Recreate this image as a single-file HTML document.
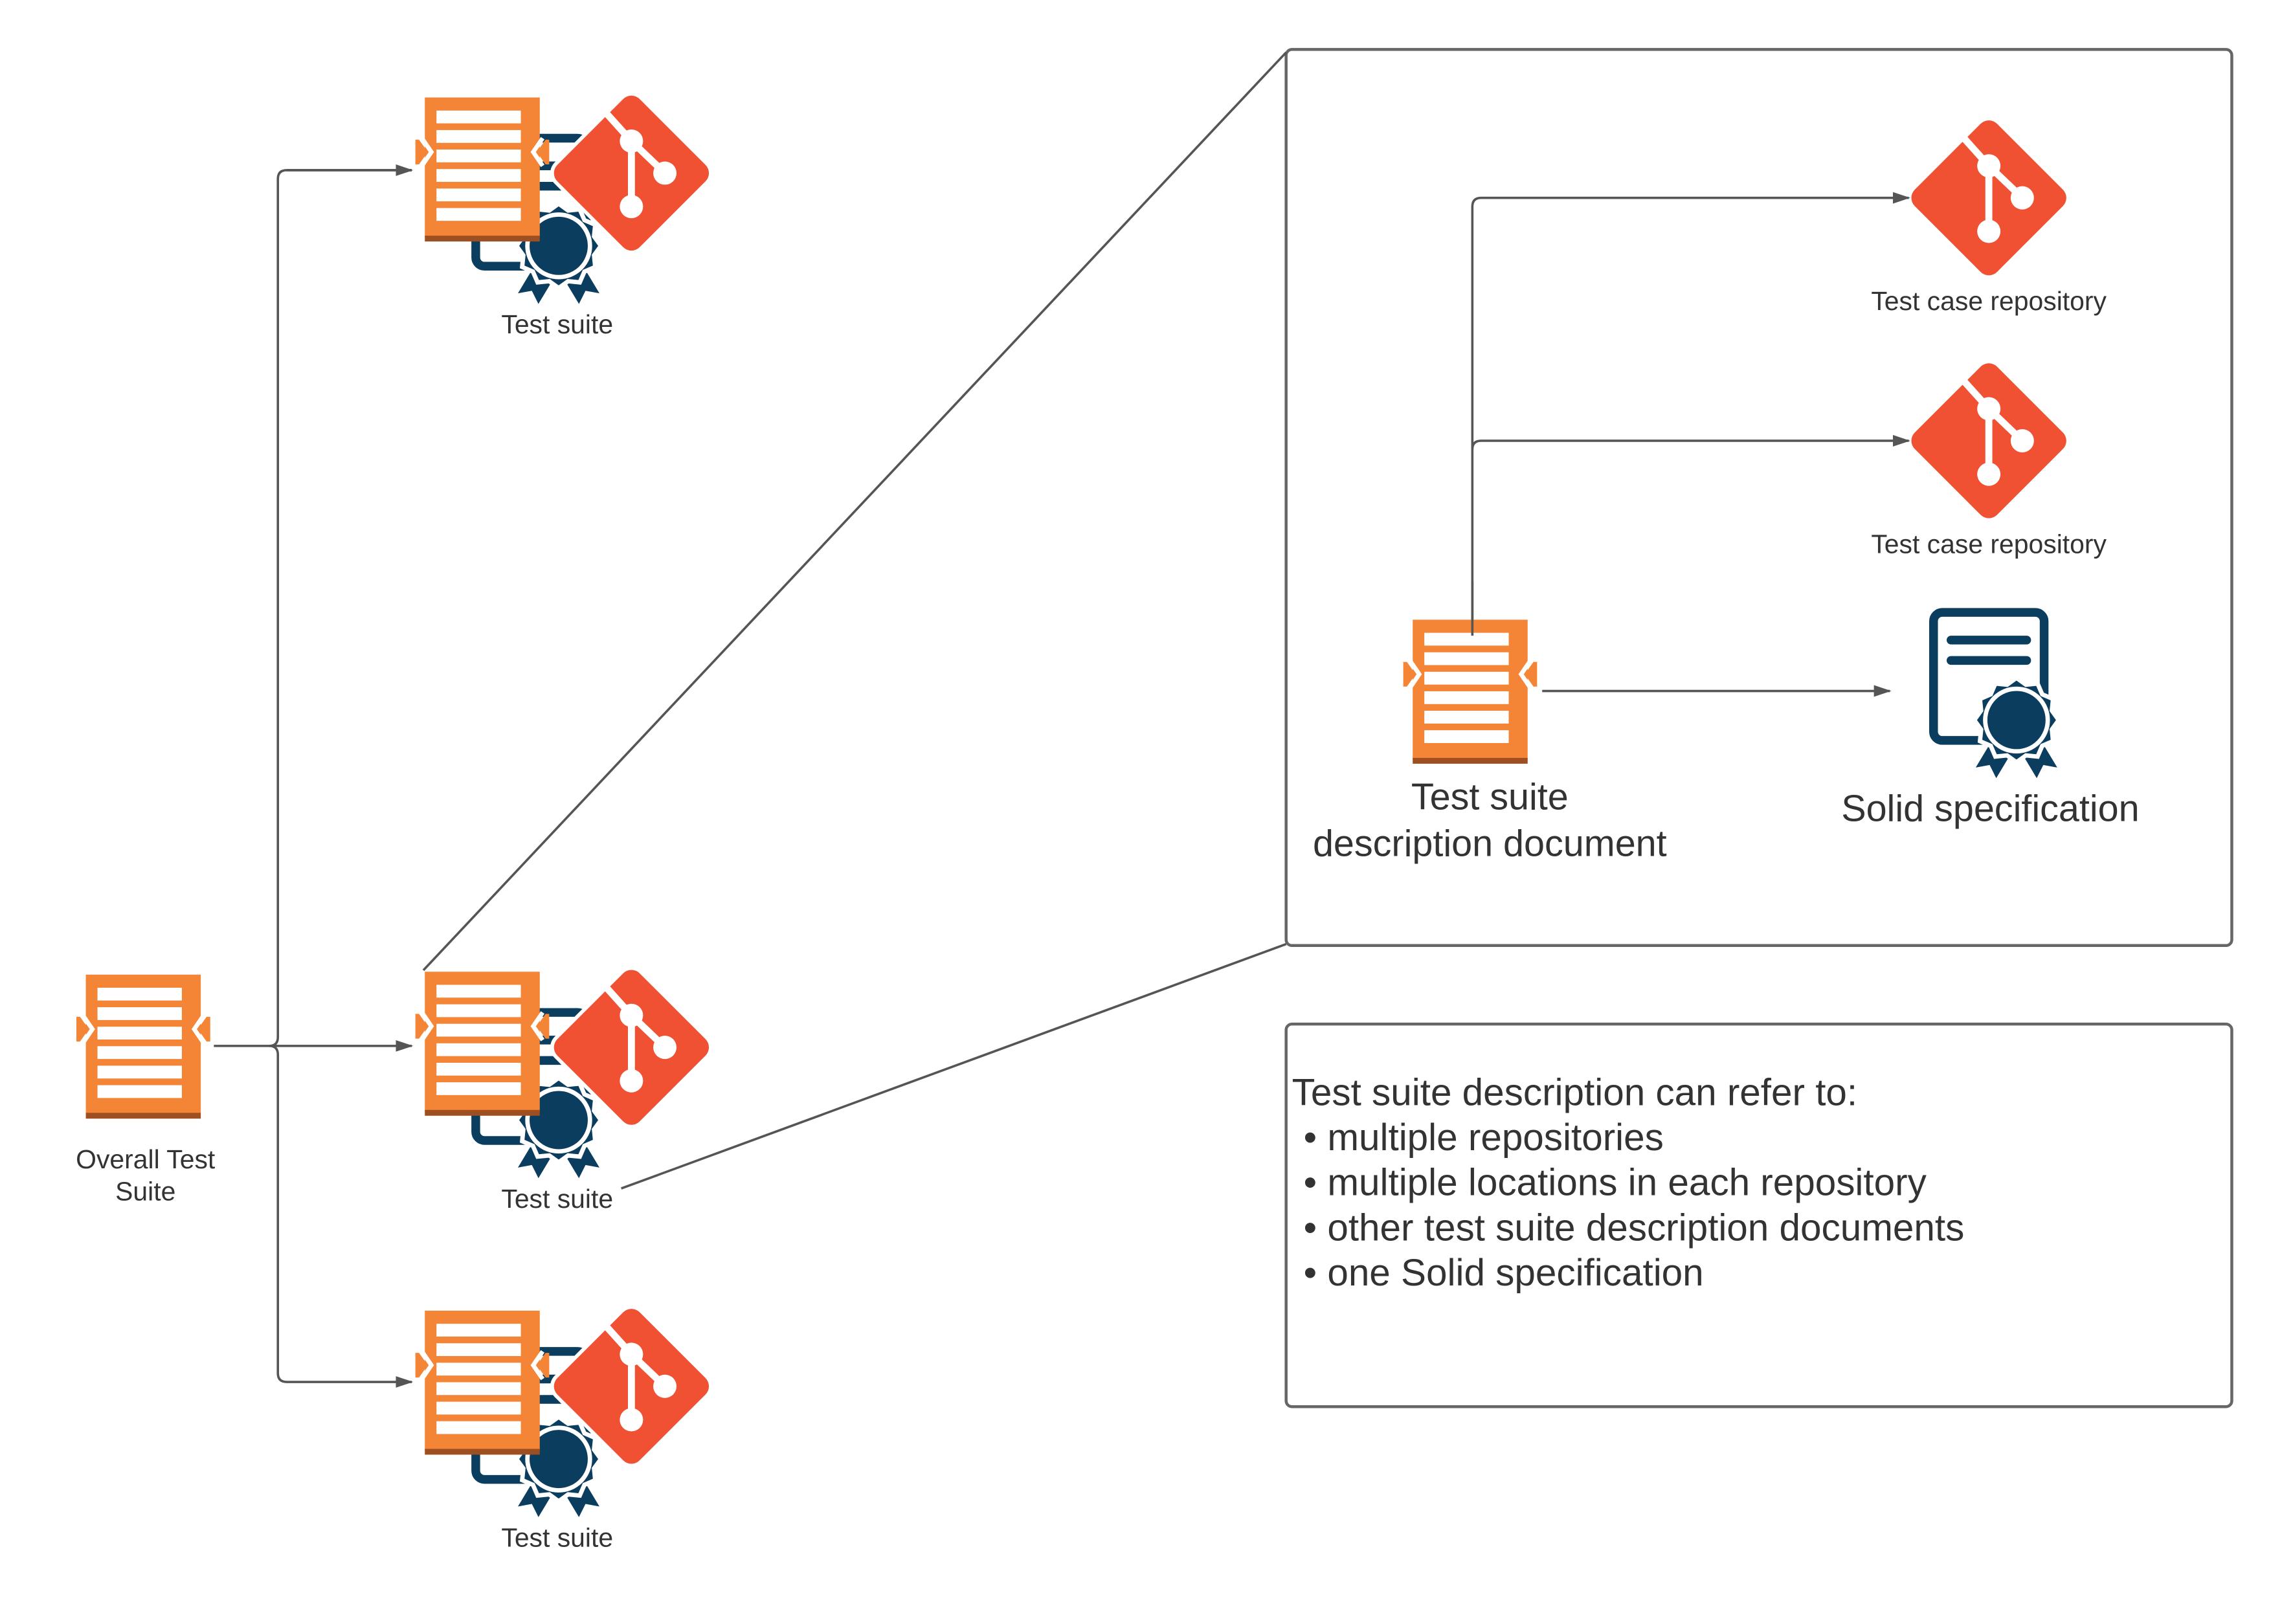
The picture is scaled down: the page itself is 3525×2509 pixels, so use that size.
<!DOCTYPE html>
<html><head><meta charset="utf-8"><style>
html,body{margin:0;padding:0;background:#fff;}
svg{display:block;}
text{font-family:"Liberation Sans",sans-serif;fill:#333;}
</style></head><body>
<svg width="3525" height="2509" viewBox="0 0 1568.5 1116.4" xmlns="http://www.w3.org/2000/svg">
<defs>
<g id="doc">
  <rect x="0" y="0" width="79" height="96" fill="#F58536"/>
  <rect x="0" y="95" width="79" height="4" fill="#9D4F22"/>
  <g fill="#fff">
    <rect x="8" y="9" width="58" height="8.8"/>
    <rect x="8" y="22.4" width="58" height="8.8"/>
    <rect x="8" y="35.8" width="58" height="8.8"/>
    <rect x="8" y="49.2" width="58" height="8.8"/>
    <rect x="8" y="62.6" width="58" height="8.8"/>
    <rect x="8" y="76" width="58" height="8.8"/>
  </g>
  <polygon points="-6.5,29 -4,29 2,37.5 -4,46 -6.5,46" fill="#F58536"/>
  <polyline points="-2,28 4.5,37.5 -2,47" fill="none" stroke="#fff" stroke-width="3"/>
  <polygon points="85.5,29 83,29 77,37.5 83,46 85.5,46" fill="#F58536"/>
  <polyline points="81,28 74.5,37.5 81,47" fill="none" stroke="#fff" stroke-width="3"/>
</g>
<g id="git">
  <rect x="-40" y="-40" width="80" height="80" rx="8" fill="#F05133" transform="rotate(45)"/>
  <g stroke="#fff" stroke-width="4.8" fill="none">
    <line x1="-18" y1="-42" x2="0" y2="-22"/>
    <line x1="0" y1="-22" x2="0" y2="23"/>
    <line x1="0" y1="-22" x2="23" y2="0"/>
  </g>
  <g fill="#fff">
    <circle cx="0" cy="-22" r="8"/>
    <circle cx="23" cy="0" r="8"/>
    <circle cx="0" cy="23" r="8"/>
  </g>
</g>
<g id="cert">
  <rect x="3" y="3" width="76" height="88" rx="6" fill="none" stroke="#0B3D5F" stroke-width="6"/>
  <line x1="15" y1="22" x2="67" y2="22" stroke="#0B3D5F" stroke-width="6" stroke-linecap="round"/>
  <line x1="15" y1="36" x2="67" y2="36" stroke="#0B3D5F" stroke-width="6" stroke-linecap="round"/>
  <g transform="translate(60,77)">
    <polygon points="-18,14 -30,34 -19,32 -14,42 -2,22" fill="#0B3D5F" stroke="#fff" stroke-width="2"/>
    <polygon points="18,14 30,34 19,32 14,42 2,22" fill="#0B3D5F" stroke="#fff" stroke-width="2"/>
    <polygon fill="#0B3D5F" stroke="#fff" stroke-width="3" points="0,-29 6.5,-24.3 14.5,-25.1 17.7,-17.7 25.1,-14.5 24.3,-6.5 29,0 24.3,6.5 25.1,14.5 17.7,17.7 14.5,25.1 6.5,24.3 0,29 -6.5,24.3 -14.5,25.1 -17.7,17.7 -25.1,14.5 -24.3,6.5 -29,0 -24.3,-6.5 -25.1,-14.5 -17.7,-17.7 -14.5,-25.1 -6.5,-24.3"/>
    <circle r="21.5" fill="#0B3D5F" stroke="#fff" stroke-width="3"/>
  </g>
</g>
<g id="cluster">
  <use href="#cert" x="32" y="25"/>
  <use href="#doc" x="0" y="0"/>
  <g transform="translate(142,52)">
    <rect x="-40" y="-40" width="80" height="80" rx="8" fill="#fff" stroke="#fff" stroke-width="5" transform="rotate(45)"/>
    <use href="#git"/>
  </g>
</g>
<marker id="ar" markerWidth="12" markerHeight="10" refX="11" refY="5" orient="auto" markerUnits="userSpaceOnUse">
  <polygon points="0,1 12,5 0,9" fill="#555"/>
</marker>
</defs>

<rect x="884" y="34" width="650" height="616" rx="4" fill="none" stroke="#666" stroke-width="2"/>
<rect x="884" y="704" width="650" height="263" rx="4" fill="none" stroke="#666" stroke-width="2"/>

<g stroke="#555" stroke-width="1.6" fill="none">
  <line x1="147" y1="719" x2="186" y2="719"/>
  <path d="M283,117 H197 Q191,117 191,123 V713 Q191,719 185,719"/>
  <path d="M185,719 Q191,719 191,725 V944 Q191,950 197,950 H283" marker-end="url(#ar)"/>
  <line x1="186" y1="719" x2="283" y2="719" marker-end="url(#ar)"/>
  <line x1="197" y1="117" x2="283" y2="117" marker-end="url(#ar)"/>
  <line x1="291" y1="667" x2="884" y2="36"/>
  <line x1="427" y1="817" x2="884" y2="649"/>
  <path d="M1012,437 V142 Q1012,136 1018,136 H1312" marker-end="url(#ar)"/>
  <path d="M1012,309 Q1012,303 1018,303 H1312" marker-end="url(#ar)"/>
  <line x1="1060" y1="475" x2="1299" y2="475" marker-end="url(#ar)"/>
</g>

<use href="#doc" x="59" y="670"/>
<use href="#cluster" x="292" y="67"/>
<use href="#cluster" x="292" y="668"/>
<use href="#cluster" x="292" y="901"/>
<use href="#doc" x="971" y="426"/>
<use href="#git" x="1367" y="136"/>
<use href="#git" x="1367" y="303"/>
<use href="#cert" x="1326" y="418"/>
<line x1="1012" y1="437" x2="1012" y2="400" stroke="#555" stroke-width="1.6"/>

<g font-size="18.2" text-anchor="middle" dominant-baseline="central">
  <text x="100" y="797">Overall Test</text>
  <text x="100" y="819">Suite</text>
  <text x="383" y="223">Test suite</text>
  <text x="383" y="824">Test suite</text>
  <text x="383" y="1057">Test suite</text>
  <text x="1367" y="207">Test case repository</text>
  <text x="1367" y="374">Test case repository</text>
</g>
<g font-size="25.6" text-anchor="middle" dominant-baseline="central">
  <text x="1024" y="548">Test suite</text>
  <text x="1024" y="580">description document</text>
  <text x="1368" y="556">Solid specification</text>
</g>
<g font-size="26" dominant-baseline="central">
  <text x="888" y="751">Test suite description can refer to:</text>
  <text x="896" y="782">• multiple repositories</text>
  <text x="896" y="813">• multiple locations in each repository</text>
  <text x="896" y="844">• other test suite description documents</text>
  <text x="896" y="875">• one Solid specification</text>
</g>
</svg>
</body></html>
